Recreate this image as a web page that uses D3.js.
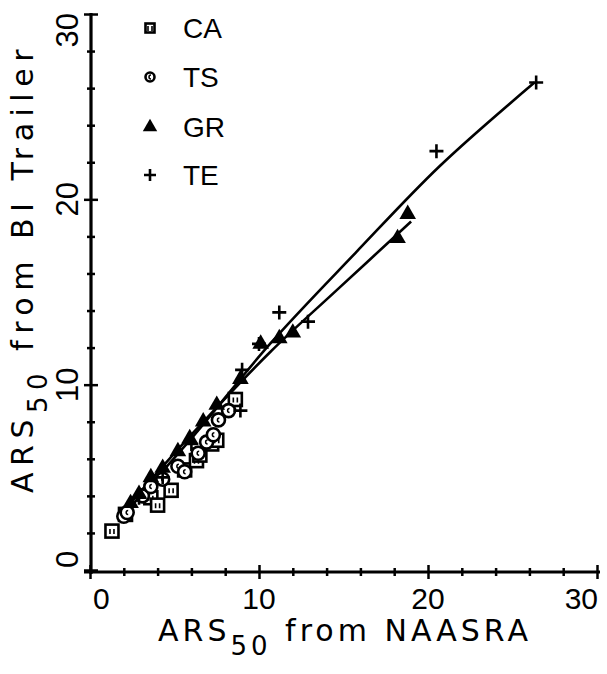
<!DOCTYPE html>
<html>
<head>
<meta charset="utf-8">
<script src="https://cdn.jsdelivr.net/npm/d3@7"></script>
<style>
  body { margin: 0; background: #fff; }
  text { font-family: "Liberation Sans", Arial, sans-serif; fill: #000; }
  .title { font-family: "DejaVu Sans", sans-serif; }
</style>
</head>
<body>
<svg id="chart" width="607" height="674"></svg>
<script>
// data (x = NAASRA, y = BI Trailer)
var caPoints = [[1.3,2.1],[2.1,3.0],[3.6,3.9],[4.0,3.5],[4.8,4.3],[5.6,5.4],[6.3,5.9],[6.5,6.2],[7.2,6.8],[7.5,7.0],[8.6,9.2]];
var tsPoints = [[2.0,2.9],[2.2,3.1],[3.1,4.0],[3.6,4.5],[4.3,4.9],[5.2,5.6],[5.6,5.3],[6.4,6.3],[6.9,6.9],[7.3,7.3],[7.6,8.1],[8.2,8.6]];
var grPoints = [[2.4,3.6],[2.9,4.1],[3.6,5.0],[4.3,5.5],[5.2,6.4],[5.9,7.1],[6.7,8.0],[7.5,8.9],[8.9,10.3],[10.1,12.2],[11.2,12.5],[12.0,12.8],[18.2,17.9],[18.8,19.2]];
var tePoints = [[2.9,3.9],[4.3,5.0],[6.0,6.8],[8.9,8.6],[9.0,10.8],[10.0,12.2],[11.2,13.9],[12.9,13.4],[20.5,22.6],[26.4,26.3]];

// fitted curves, read as a few points along each line
var teFit = [[2.0,3.0],[6.0,7.1],[10.65,12.2],[15.7,17.1],[20.7,21.8],[26.3,26.3]];
var grFit = [[2.0,3.2],[6.0,7.3],[10.65,11.75],[14.6,15.1],[19.0,18.8]];

var legendNames = ["CA","TS","GR","TE"];
var majorTicks = [0,10,20,30];
var minorTicks = d3.range(0,31,2);

var svg = d3.select("#chart");

var x = d3.scaleLinear().domain([0,30]).range([90,597]);
var y = d3.scaleLinear().domain([0,30]).range([570,14]);

//axes, with ticks crossing the line
var xAxis = svg.append("g")
  .attr("transform","translate(0,572)")
  .call(d3.axisBottom(x).tickValues(minorTicks).tickSize(4).tickFormat(""));
xAxis.select(".domain").remove();
xAxis.selectAll(".tick line").attr("y1",-4).attr("y2",4).attr("stroke-width",2.5)
  .filter(function(d){ return d % 10 === 0; }).attr("y1",-7).attr("y2",7);
svg.append("line").attr("x1",84).attr("x2",600).attr("y1",572).attr("y2",572)
  .attr("stroke","#000").attr("stroke-width",3.2);

var yAxis = svg.append("g")
  .attr("transform","translate(91,0)")
  .call(d3.axisLeft(y).tickValues(minorTicks).tickSize(4).tickFormat(""));
yAxis.select(".domain").remove();
yAxis.selectAll(".tick line").attr("x1",-4).attr("x2",4).attr("stroke-width",2.5)
  .filter(function(d){ return d % 10 === 0; }).attr("x1",-7).attr("x2",7);
svg.append("line").attr("x1",91).attr("x2",91).attr("y1",y(30)-1).attr("y2",574)
  .attr("stroke","#000").attr("stroke-width",3.2);

//tick labels
svg.selectAll(".xlab").data(majorTicks).enter().append("text")
  .attr("x", function(d){ return d === 0 ? x(d)+3 : d === 30 ? x(d)+1 : x(d); })
  .attr("y", 609)
  .attr("font-size", 30)
  .attr("text-anchor", function(d){ return d === 0 ? "start" : d === 30 ? "end" : "middle"; })
  .text(function(d){ return d; });

svg.selectAll(".ylab").data(majorTicks).enter().append("text")
  .attr("transform", function(d){
    var yy = d === 0 ? y(d)-2 : d === 30 ? y(d)-1 : y(d);
    return "translate(78," + yy + ") rotate(-90)";
  })
  .attr("font-size", 31)
  .attr("text-anchor", function(d){ return d === 0 ? "start" : d === 30 ? "end" : "middle"; })
  .text(function(d){ return d; });

//axis titles
var xt = svg.append("text").attr("class","title").attr("x",345).attr("y",641)
  .attr("font-size",30).attr("letter-spacing",4).attr("text-anchor","middle");
xt.append("tspan").text("ARS");
xt.append("tspan").attr("font-size",26).attr("dy",14).text("50");
xt.append("tspan").attr("dy",-14).text(" from NAASRA");

var yt = svg.append("text").attr("class","title").attr("transform","translate(33,268) rotate(-90)")
  .attr("font-size",30).attr("letter-spacing",6.5).attr("text-anchor","middle");
yt.append("tspan").text("ARS");
yt.append("tspan").attr("font-size",26).attr("dy",14).text("50");
yt.append("tspan").attr("dy",-14).text(" from BI Trailer");

//fit lines
var line = d3.line().x(function(d){ return x(d[0]); }).y(function(d){ return y(d[1]); })
  .curve(d3.curveCatmullRom);
[teFit, grFit].forEach(function(f){
  svg.append("path").datum(f).attr("d", line)
    .attr("fill","none").attr("stroke","#000").attr("stroke-width",2.6);
});

//marker drawing
function drawSquare(g, s){
  g.append("rect").attr("x",-s/2).attr("y",-s/2).attr("width",s).attr("height",s)
    .attr("fill","#fff").attr("stroke","#000").attr("stroke-width",2.6);
  g.append("path").attr("d","M-2,-2V3M2,-2V3").attr("stroke","#000").attr("stroke-width",1.6);
}
function drawCircle(g, r){
  g.append("circle").attr("r",r).attr("fill","#fff").attr("stroke","#000").attr("stroke-width",2.6);
  g.append("path").attr("d","M1,-2A2,2 0 1 0 1,2").attr("fill","none").attr("stroke","#000").attr("stroke-width",1.5);
}
function drawTriangle(g, s){
  g.append("path").attr("d", d3.symbol().type(d3.symbolTriangle).size(s)())
    .attr("fill","#000");
}
function drawPlus(g, s){
  g.append("path").attr("d","M"+(-s)+",0H"+s+"M0,"+(-s)+"V"+s)
    .attr("stroke","#000").attr("stroke-width",2.6);
}

function plot(points, fn, size){
  svg.append("g").selectAll("g").data(points).enter().append("g")
    .attr("transform", function(d){ return "translate(" + x(d[0]) + "," + y(d[1]) + ")"; })
    .each(function(){ fn(d3.select(this), size); });
}
plot(caPoints, drawSquare, 13);
plot(tsPoints, drawCircle, 6.5);
plot(grPoints, drawTriangle, 120);
plot(tePoints, drawPlus, 7);

//legend
var legendY = [28,77,127,175];
var legendFns = [[drawSquare,9],[drawCircle,4.5],[drawTriangle,90],[drawPlus,6]];
legendNames.forEach(function(n,i){
  var g = svg.append("g").attr("transform","translate(150," + legendY[i] + ")");
  legendFns[i][0](g, legendFns[i][1]);
  svg.append("text").attr("x",183).attr("y",legendY[i]+10).attr("font-size",28).text(n);
});
</script>
</body>
</html>
